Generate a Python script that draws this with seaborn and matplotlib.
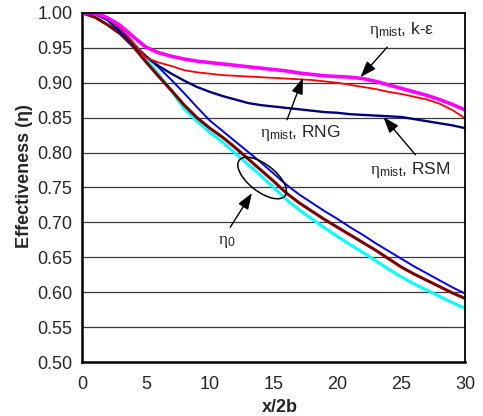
import matplotlib
matplotlib.use("Agg")
import matplotlib.pyplot as plt
from matplotlib.patches import Ellipse
from matplotlib.transforms import ScaledTranslation
import seaborn as sns

# Effectiveness along the duct, sampled at x/2b = 0, 1, ..., 30
x_pos = list(range(31))

eta_mist_ke = [1.000, 1.000, 0.993, 0.982, 0.966, 0.951, 0.943, 0.938, 0.934, 0.931,
               0.929, 0.927, 0.925, 0.923, 0.921, 0.919, 0.917, 0.914, 0.912, 0.910,
               0.909, 0.908, 0.906, 0.902, 0.897, 0.892, 0.887, 0.882, 0.876, 0.869, 0.861]

eta_mist_rng = [1.000, 1.000, 0.993, 0.978, 0.958, 0.936, 0.929, 0.924, 0.918, 0.915,
                0.913, 0.911, 0.910, 0.909, 0.908, 0.907, 0.906, 0.905, 0.904, 0.902,
                0.900, 0.897, 0.894, 0.891, 0.887, 0.884, 0.880, 0.876, 0.870, 0.861, 0.849]

eta_mist_rsm = [1.000, 0.999, 0.990, 0.972, 0.955, 0.938, 0.924, 0.913, 0.903, 0.894,
                0.887, 0.881, 0.876, 0.871, 0.868, 0.866, 0.864, 0.862, 0.860, 0.858,
                0.857, 0.855, 0.854, 0.853, 0.852, 0.851, 0.848, 0.845, 0.842, 0.839, 0.835]

eta0_blue = [1.000, 0.999, 0.990, 0.974, 0.956, 0.938, 0.922, 0.904, 0.885, 0.865,
             0.846, 0.831, 0.816, 0.801, 0.786, 0.770, 0.754, 0.740, 0.728, 0.716,
             0.705, 0.693, 0.682, 0.670, 0.659, 0.648, 0.637, 0.627, 0.617, 0.607, 0.598]

eta0_brown = [1.000, 0.994, 0.983, 0.970, 0.952, 0.930, 0.909, 0.889, 0.868, 0.850,
              0.835, 0.822, 0.807, 0.791, 0.775, 0.759, 0.742, 0.728, 0.716, 0.704,
              0.693, 0.682, 0.671, 0.660, 0.648, 0.636, 0.626, 0.617, 0.608, 0.599, 0.591]

eta0_cyan = [1.000, 0.999, 0.990, 0.975, 0.956, 0.934, 0.912, 0.888, 0.863, 0.845,
             0.829, 0.815, 0.799, 0.783, 0.767, 0.750, 0.733, 0.718, 0.705, 0.692,
             0.680, 0.668, 0.657, 0.645, 0.633, 0.622, 0.612, 0.603, 0.594, 0.585, 0.577]

y_ticks = [0.50, 0.55, 0.60, 0.65, 0.70, 0.75, 0.80, 0.85, 0.90, 0.95, 1.00]
x_ticks = [0, 5, 10, 15, 20, 25, 30]

sns.set_style("white")
plt.rcParams["font.family"] = ["Liberation Sans", "DejaVu Sans"]
plt.rcParams["mathtext.fontset"] = "custom"
plt.rcParams["mathtext.rm"] = "Liberation Sans"
plt.rcParams["mathtext.it"] = "Liberation Serif"

fig = plt.figure(figsize=(4.83, 4.16), dpi=100)
ax = fig.add_axes([0.170, 0.1298, 0.793, 0.839])

for yv in y_ticks[1:-1]:
    ax.axhline(yv, color="#3a3a3a", lw=0.9, zorder=1)

series = [
    (eta0_cyan, "#00FFFF", 2.2),
    (eta0_brown, "#800000", 2.2),
    (eta0_blue, "#0000FF", 1.4),
    (eta_mist_rsm, "#000080", 1.7),
    (eta_mist_rng, "#FF0000", 1.3),
    (eta_mist_ke, "#FF00FF", 2.6),
]
for ys, c, lw in series:
    sns.lineplot(x=x_pos, y=ys, color=c, lw=lw, ax=ax, zorder=3)

ax.set_xlim(0, 30)
ax.set_ylim(0.5, 1.0)
ax.set_xticks(x_ticks)
ax.set_yticks(y_ticks)
ax.set_yticklabels([f"{v:.2f}" for v in y_ticks])
ax.tick_params(axis="x", direction="in", length=3, width=0.8, pad=10, labelsize=13)
ax.tick_params(axis="y", length=0, pad=7, labelsize=13)

for side in ["left", "bottom"]:
    ax.spines[side].set_linewidth(1.8)
for side in ["top", "right"]:
    ax.spines[side].set_linewidth(1.3)
for s in ax.spines.values():
    s.set_color("black")
    s.set_zorder(5)

ax.set_xlabel("x/2b", fontsize=13, fontweight="bold")
ax.set_ylabel("Effectiveness (η)", fontsize=13, fontweight="bold")
ax.xaxis.set_label_coords(0.517, -0.106)
ax.yaxis.set_label_coords(-0.128, 0.533)

arrow = dict(arrowstyle="-|>,head_length=0.7,head_width=0.25", color="black", lw=1.0,
             mutation_scale=14, shrinkA=0, shrinkB=0)
lab = dict(fontsize=12.5, ha="center", va="center", zorder=6)

ax.text(25.06, 0.9756, r"$\eta_{\mathrm{mist}}$, k-ε", **lab)
ax.annotate("", xy=(21.8, 0.908), xytext=(23.9, 0.951), arrowprops=arrow, zorder=6)

ax.text(17.07, 0.828, r"$\eta_{\mathrm{mist}}$, RNG", **lab)
ax.annotate("", xy=(17.3, 0.907), xytext=(16.05, 0.847), arrowprops=arrow, zorder=6)

ax.text(25.7, 0.775, r"$\eta_{\mathrm{mist}}$, RSM", **lab)
ax.annotate("", xy=(23.6, 0.851), xytext=(26.1, 0.797), arrowprops=arrow, zorder=6)

ax.text(11.35, 0.672, r"$\eta_{0}$", **lab)
ax.annotate("", xy=(13.3, 0.742), xytext=(11.6, 0.693), arrowprops=arrow, zorder=6)

# ellipse grouping the three single-phase curves, sized in screen inches
ell_trans = fig.dpi_scale_trans + ScaledTranslation(14.1, 0.7636, ax.transData)
ax.add_patch(Ellipse((0, 0), width=0.58, height=0.27, angle=-38, fill=False,
                     edgecolor="black", lw=1.1, transform=ell_trans, zorder=6))

fig.savefig("out.png", dpi=100)
